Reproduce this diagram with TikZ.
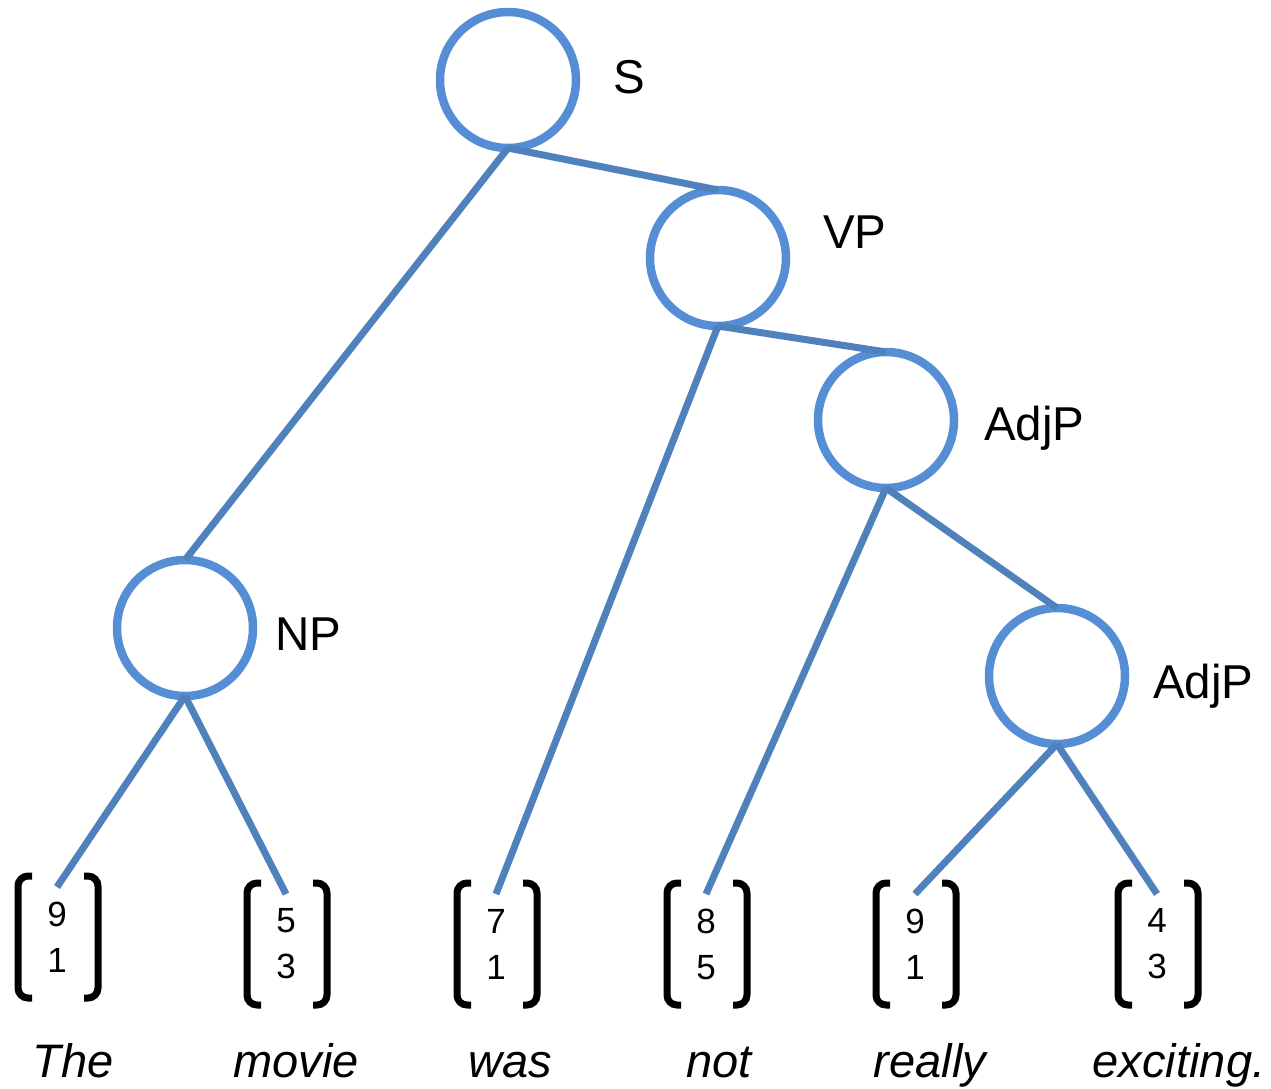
\documentclass[tikz,border=0pt]{standalone}
\usepackage{fontspec}
\setmainfont{Liberation Sans}
\usetikzlibrary{calc}
\definecolor{circ}{HTML}{558ED5}
\definecolor{edgecol}{HTML}{4F81BD}
\begin{document}
\begin{tikzpicture}[x=1pt,y=-1pt,
  cnode/.style={circle,draw=circ,line width=8.5pt,minimum size=136pt,inner sep=0pt,outer sep=0pt},
  lab/.style={font=\fontsize{47.5}{50}\selectfont,anchor=base west,inner sep=0pt},
  edgeline/.style={draw=edgecol,line width=7pt},
  vec/.style={align=center,font=\fontsize{35}{46}\selectfont,inner sep=0pt},
  word/.style={font=\fontsize{47}{50}\selectfont\itshape,anchor=base,inner sep=0pt},
  brk/.style={line width=7pt,rounded corners=10pt,line cap=butt}]
\useasboundingbox (0,0) rectangle (1271,1088);

% tree nodes
\node[cnode] (S) at (508,80) {};
\node[cnode] (VP) at (718,258) {};
\node[cnode] (A1) at (886,420) {};
\node[cnode] (NP) at (185,628) {};
\node[cnode] (A2) at (1057,676) {};

\node[lab] (Sl) at (613,93) {S};
\node[lab] (VPl) at (823,248) {VP};
\node[lab] (A1l) at (984,440) {AdjP};
\node[lab] (NPl) at (275,650) {NP};
\node[lab] (A2l) at (1153,698) {AdjP};

% vectors
\node[vec] (v1) at (57,937) {9\\1};
\node[vec] (v2) at (286,944) {5\\3};
\node[vec] (v3) at (496,944) {7\\1};
\node[vec] (v4) at (706,944) {8\\5};
\node[vec] (v5) at (915,944) {9\\1};
\node[vec] (v6) at (1157,944) {4\\3};

\foreach \v in {v1,v2,v3,v4,v5,v6}{
  \draw[brk] ($(\v.center)+(-25,-61)$) -- ($(\v.center)+(-39,-61)$) -- ($(\v.center)+(-39,61)$) -- ($(\v.center)+(-25,61)$);
  \draw[brk] ($(\v.center)+(27,-61)$) -- ($(\v.center)+(41,-61)$) -- ($(\v.center)+(41,61)$) -- ($(\v.center)+(27,61)$);
  \coordinate (t\v) at ($(\v.center)+(0,-50)$);
}

% words
\node[word] (w1) at (73,1077) {The};
\node[word] (w2) at (296,1077) {movie};
\node[word] (w3) at (510,1077) {was};
\node[word] (w4) at (719,1077) {not};
\node[word] (w5) at (930,1077) {really};
\node[word] (w6) at (1179,1077) {exciting.};

% connectors
\draw[edgeline] (S.south) -- (VP.north);
\draw[edgeline] (S.south) -- (NP.north);
\draw[edgeline] (VP.south) -- (A1.north);
\draw[edgeline] (VP.south) -- (tv3);
\draw[edgeline] (A1.south) -- (A2.north);
\draw[edgeline] (A1.south) -- (tv4);
\draw[edgeline] (NP.south) -- (tv1);
\draw[edgeline] (NP.south) -- (tv2);
\draw[edgeline] (A2.south) -- (tv5);
\draw[edgeline] (A2.south) -- (tv6);
\end{tikzpicture}
\end{document}
